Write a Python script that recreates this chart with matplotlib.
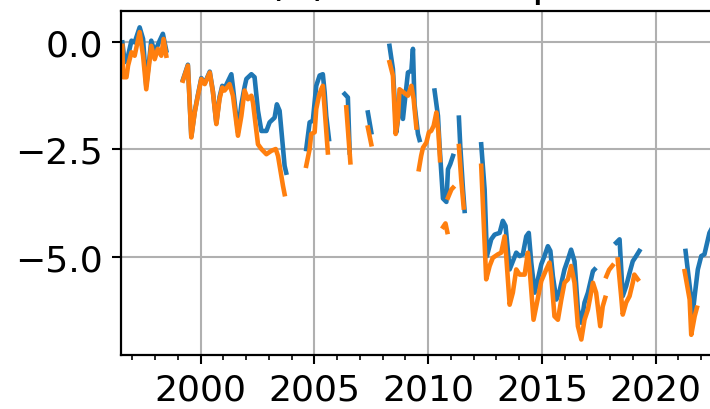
import matplotlib
matplotlib.use('Agg')
import matplotlib.pyplot as plt
from matplotlib.ticker import MultipleLocator
import numpy as np

nan = np.nan

# decimal years, nan = gap in the record
blue_t = [1996.56, 1996.66, 1996.81, 1996.96, 1997.10, 1997.32, 1997.47, 1997.61, 1997.76, 1997.83,
          1997.98, 1998.20, 1998.34, 1998.49, 1998.8,
          1999.22, 1999.44, 1999.59, 1999.74, 1999.88, 2000.03, 2000.18, 2000.40, 2000.54, 2000.69,
          2000.83, 2000.95, 2001.05, 2001.35, 2001.42, 2001.64, 2001.79, 2001.93, 2002.01, 2002.23,
          2002.37, 2002.52, 2002.67, 2002.89, 2003.03, 2003.25, 2003.35, 2003.47, 2003.69, 2003.76, 2004.2,
          2004.64, 2004.79, 2004.93, 2005.08, 2005.23, 2005.37, 2005.45, 2005.52, 2005.64, 2006.0,
          2006.33, 2006.47, 2006.55, 2007.0,
          2007.35, 2007.50, 2007.9,
          2008.30, 2008.45, 2008.60, 2008.71, 2008.77, 2008.89, 2009.11, 2009.26, 2009.33, 2009.40,
          2009.55, 2009.62, 2010.0,
          2010.28, 2010.43, 2010.50, 2010.65, 2010.80, 2010.87, 2010.97, 2011.09, 2011.2,
          2011.35, 2011.41, 2011.53, 2011.60, 2012.0,
          2012.33, 2012.48, 2012.58, 2012.77, 2012.92, 2013.14, 2013.28, 2013.40, 2013.58, 2013.72,
          2013.87, 2014.02, 2014.16, 2014.31, 2014.42, 2014.53, 2014.68, 2014.82, 2014.97, 2015.11,
          2015.26, 2015.37, 2015.48, 2015.63, 2015.77, 2015.99, 2016.14, 2016.28, 2016.43, 2016.58,
          2016.73, 2016.87, 2017.02, 2017.24, 2017.31, 2017.8,
          2018.26, 2018.41, 2018.55, 2018.70, 2018.85, 2018.99, 2019.14, 2019.28, 2020.0,
          2021.31, 2021.49, 2021.63, 2021.71, 2021.85, 2022.00, 2022.14, 2022.36, 2022.50]
blue_v = [-0.01, -0.47, -0.32, 0.03, -0.01, 0.34, 0.07, -1.02, -0.32, 0.03,
          -0.24, 0.03, 0.19, -0.20, nan,
          -0.88, -0.53, -2.20, -1.62, -1.23, -0.84, -0.96, -0.69, -1.15, -1.89,
          -1.28, -1.02, -1.08, -0.75, -1.05, -2.10, -1.45, -1.05, -0.86, -0.75,
          -0.82, -1.60, -2.07, -2.07, -1.87, -1.76, -1.45, -1.60, -2.88, -3.04, nan,
          -2.49, -1.87, -1.83, -1.02, -0.78, -0.75, -1.17, -1.72, -2.26, nan,
          -1.21, -1.29, -2.57, nan,
          -1.64, -2.10, nan,
          -0.09, -0.63, -2.10, -1.64, -1.17, -1.79, -0.71, -0.67, -0.16, -1.45,
          -2.14, -2.28, nan,
          -1.13, -1.72, -2.42, -3.64, -3.72, -2.96, -2.84, -2.65, nan,
          -1.76, -2.42, -3.43, -3.93, nan,
          -2.38, -3.43, -4.98, -4.59, -4.48, -4.44, -4.16, -4.28, -5.29, -5.10,
          -4.90, -4.98, -4.94, -4.52, -4.44, -5.13, -5.83, -5.52, -5.17, -4.98,
          -4.75, -4.86, -5.45, -5.99, -5.80, -5.29, -5.06, -4.83, -5.10, -6.22,
          -6.53, -6.06, -5.83, -5.33, -5.29, nan,
          -4.67, -4.59, -5.91, -5.68, -5.37, -5.10, -4.98, -4.86, nan,
          -4.86, -5.68, -6.30, -5.91, -5.29, -4.98, -4.94, -4.44, -4.30]

orange_t = [1996.56, 1996.59, 1996.74, 1996.81, 1996.96, 1997.10, 1997.32, 1997.47, 1997.61, 1997.83,
            1997.98, 1998.12, 1998.27, 1998.37, 1998.49, 1998.8,
            1999.22, 1999.44, 1999.59, 1999.74, 1999.88, 2000.03, 2000.18, 2000.40, 2000.54, 2000.69,
            2000.83, 2000.95, 2001.05, 2001.27, 2001.42, 2001.64, 2001.79, 2001.93, 2002.08, 2002.23,
            2002.30, 2002.52, 2002.67, 2002.89, 2003.11, 2003.30, 2003.40, 2003.62, 2003.69, 2004.2,
            2004.64, 2004.79, 2004.86, 2005.01, 2005.08, 2005.20, 2005.30, 2005.37, 2005.45, 2005.59, 2006.0,
            2006.40, 2006.58, 2007.0,
            2007.35, 2007.50, 2007.9,
            2008.30, 2008.45, 2008.57, 2008.67, 2008.74, 2009.11, 2009.26, 2009.36, 2009.48, 2009.53,
            2009.59, 2009.69, 2009.77, 2009.92, 2010.03, 2010.13, 2010.24, 2010.36, 2010.45, 2010.52, 2010.6,
            2010.66, 2010.76, 2010.84, 2010.86,
            2010.87, 2011.02, 2011.09, 2011.2,
            2011.35, 2011.45, 2011.56, 2012.0,
            2012.33, 2012.55, 2012.70, 2012.84, 2013.06, 2013.21, 2013.36, 2013.43, 2013.58, 2013.72,
            2013.87, 2014.02, 2014.24, 2014.38, 2014.46, 2014.63, 2014.78, 2014.97, 2015.19, 2015.33,
            2015.41, 2015.55, 2015.70, 2015.85, 2015.99, 2016.14, 2016.28, 2016.43, 2016.58, 2016.73,
            2016.87, 2017.02, 2017.24, 2017.38, 2017.56, 2017.67, 2017.78, 2017.8,
            2017.83, 2017.95, 2018.10, 2018.2,
            2018.33, 2018.48, 2018.55, 2018.70, 2018.85, 2018.99, 2019.06, 2019.21, 2020.0,
            2021.27, 2021.49, 2021.56, 2021.71, 2021.81]
orange_v = [-0.09, -0.82, -0.82, -0.55, -0.24, -0.32, 0.23, -0.32, -1.10, -0.09,
            -0.40, -0.16, -0.32, 0.07, -0.32, nan,
            -0.90, -0.55, -2.22, -1.64, -1.25, -0.86, -0.98, -0.71, -1.17, -1.91,
            -1.33, -1.06, -1.13, -0.98, -1.25, -2.18, -1.72, -1.13, -1.33, -1.25,
            -1.41, -2.38, -2.49, -2.61, -2.53, -2.49, -2.65, -3.35, -3.54, nan,
            -2.88, -2.49, -2.14, -2.10, -1.56, -1.25, -1.10, -1.02, -1.56, -2.57, nan,
            -1.52, -2.80, nan,
            -1.99, -2.38, nan,
            -0.47, -0.78, -2.14, -1.79, -1.10, -1.25, -1.02, -1.33, -1.99, nan,
            -2.96, -2.65, -2.46, -2.34, -2.10, -2.07, -1.95, -1.64, -2.10, -2.75, nan,
            -4.30, -4.22, -4.42, nan,
            -3.62, -3.43, -3.39, nan,
            -2.42, -3.19, -3.85, nan,
            -2.88, -5.52, -5.21, -5.02, -4.94, -4.90, -4.52, -4.98, -6.11, -5.83,
            -5.29, -5.41, -5.41, -4.90, -5.29, -6.46, -6.06, -5.56, -5.29, -5.13,
            -5.45, -6.38, -6.46, -5.99, -5.60, -5.52, -5.21, -5.60, -6.61, -6.92,
            -6.46, -6.22, -5.60, -5.83, -6.61, -6.15, -5.95, nan,
            -5.45, -5.30, -5.20, nan,
            -5.06, -5.91, -6.34, -6.06, -5.91, -5.60, -5.41, -5.52, nan,
            -5.33, -5.99, -6.81, -6.38, -6.18]

title = "Error (K) mean at peak hr"


def main():
    fig = plt.figure(figsize=(7.1, 4.1), dpi=100)
    # axes run past the right edge of the picture (cropped figure)
    ax = fig.add_axes([121 / 710, 54 / 410, 603 / 710, 344 / 410])

    ax.plot(blue_t, blue_v, color='#1f77b4', lw=3.3)
    ax.plot(orange_t, orange_v, color='#ff7f0e', lw=3.3)

    ax.set_xlim(1996.5, 2023.0)
    ax.set_ylim(-7.28, 0.72)
    ax.xaxis.set_major_locator(MultipleLocator(5))
    ax.xaxis.set_minor_locator(MultipleLocator(1))
    ax.yaxis.set_major_locator(MultipleLocator(2.5))

    ax.grid(True, color='#b0b0b0', lw=1.5)
    ax.tick_params(which='major', labelsize=26, length=6.7, width=1.5, pad=6)
    ax.tick_params(which='minor', length=3.8, width=1.2)
    for sp in ax.spines.values():
        sp.set_linewidth(1.6)

    # title sits mostly above the crop, only its descenders show
    ax.set_title(title, fontsize=30.6, pad=11.5)

    fig.savefig('out.png', dpi=100)


if __name__ == '__main__':
    main()
